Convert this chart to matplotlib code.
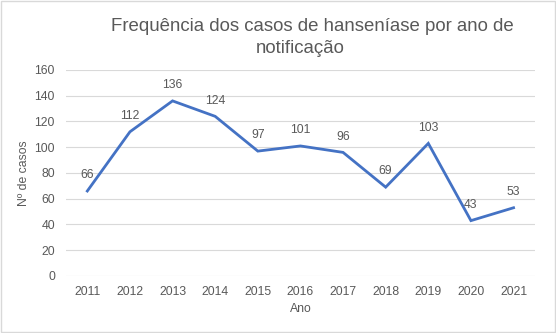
import matplotlib.pyplot as plt
from matplotlib.patches import Rectangle

anos = ['2011', '2012', '2013', '2014', '2015', '2016', '2017', '2018', '2019', '2020', '2021']
casos = [66, 112, 136, 124, 97, 101, 96, 69, 103, 43, 53]

plt.rcParams['font.family'] = ['Liberation Sans', 'DejaVu Sans']
cinza = '#595959'

fig = plt.figure(figsize=(5.56, 3.33), dpi=100)
fig.patches.append(Rectangle((0.002, 0.003), 0.996, 0.994, transform=fig.transFigure,
                             fill=False, edgecolor='#D9D9D9', linewidth=1))
ax = fig.add_axes([0.1187, 0.1712, 0.8433, 0.6186])

x = range(len(anos))
ax.plot(x, casos, color='#4472C4', linewidth=2.0, solid_joinstyle='miter')
for xi, v in zip(x, casos):
    ax.annotate(str(v), (xi, v), xytext=(0, 7), textcoords='offset points',
                ha='center', va='bottom', fontsize=8.8, color=cinza)

ax.set_xlim(-0.5, len(anos) - 0.5)
ax.set_ylim(0, 160)
ax.set_yticks(range(0, 161, 20))
ax.set_xticks(list(x))
ax.set_xticklabels(anos)
ax.tick_params(length=0, labelsize=8.8, labelcolor=cinza)
ax.tick_params(axis='x', pad=7)
ax.tick_params(axis='y', pad=8)
ax.grid(axis='y', color='#D9D9D9', linewidth=0.8)
ax.set_axisbelow(True)
for s in ax.spines.values():
    s.set_visible(False)

ax.set_xlabel('Ano', fontsize=8.8, color=cinza, labelpad=4)
ax.set_ylabel('Nº de casos', fontsize=8.8, color=cinza, labelpad=3)

# title: two lines, centred like Excel does
fig.text(0.562, 0.907, 'Frequência dos casos de hanseníase por ano de',
         ha='center', va='baseline', fontsize=13.4, color=cinza)
fig.text(0.54, 0.841, 'notificação',
         ha='center', va='baseline', fontsize=13.4, color=cinza)

fig.savefig('out.png', dpi=100)
